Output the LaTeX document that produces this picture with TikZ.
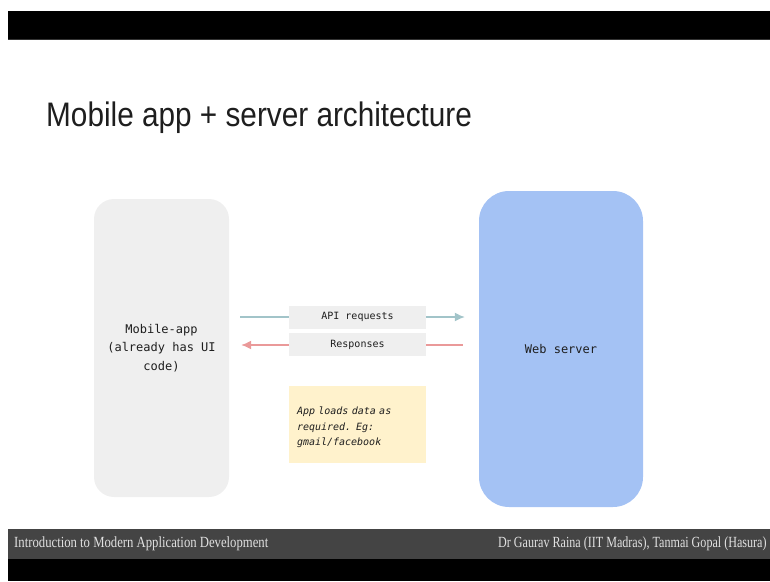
\documentclass[tikz,border=0pt]{standalone}
\usepackage{fontspec}
\setmainfont{Liberation Serif}
\setsansfont{Liberation Sans}
\setmonofont{DejaVu Sans Mono}
\usepackage{tikz}
\usetikzlibrary{arrows.meta, calc, shapes, positioning}
\definecolor{appgray}{RGB}{239,239,239}
\definecolor{serverblue}{RGB}{164,194,244}
\definecolor{noteyellow}{RGB}{255,242,204}
\definecolor{reqteal}{RGB}{162,196,201}
\definecolor{resred}{RGB}{234,153,153}
\definecolor{footgray}{RGB}{68,68,68}
\definecolor{foottext}{RGB}{225,225,225}
\definecolor{ink}{RGB}{30,30,30}

\tikzset{
    tier/.style={rounded corners=#1, inner sep=0pt, text=ink, align=center,
        font=\ttfamily\fontsize{12}{18.5}\selectfont},
    msgbox/.style={fill=appgray, minimum width=137pt, minimum height=23pt,
        inner sep=0pt, text=ink, font=\ttfamily\fontsize{10}{12}\selectfont},
    msgline/.style={line width=1.4pt, -{Latex[length=10pt,width=9pt]}}
}

\begin{document}
\begin{tikzpicture}[x=1pt,y=-1pt]
    \useasboundingbox (0,0) rectangle (770,581);
    % slide bars
    \fill[black] (8,11) rectangle (770,39);
    \fill[black!80] (8,39) rectangle (770,40);
    \fill[footgray] (8,529) rectangle (770,559);
    \fill[black] (8,559) rectangle (770,581);

    % title
    \node[anchor=base west, inner sep=0pt, text=ink, font=\sffamily\fontsize{34}{40}\selectfont] (title) at (46,126)
        {\scalebox{0.875}[1]{Mobile app + server architecture}};

    % the two tiers
    \node[tier=20pt, fill=appgray, minimum width=135pt, minimum height=298pt] (app) at (161.5,348)
        {Mobile-app\\(already has UI\\code)};
    \node[tier=30pt, fill=serverblue, minimum width=164pt, minimum height=316pt] (server) at (561,349)
        {Web server};

    % messages between them
    \coordinate (reqy) at (0,317);
    \coordinate (resy) at (0,345);
    \draw[msgline, draw=reqteal, fill=reqteal, shorten <=11pt, shorten >=14pt]
        (app.east |- reqy) -- (server.west |- reqy);
    \draw[msgline, draw=resred, fill=resred, shorten <=16pt, shorten >=12pt]
        (server.west |- resy) -- (app.east |- resy);
    \node[msgbox] (req) at (357.5,317) {API requests};
    \node[msgbox] (resp) at (357.5,344.5) {Responses};

    % note
    \node[fill=noteyellow, minimum width=137pt, minimum height=77pt, text width=121pt, inner sep=0pt,
        align=left, text=ink, font=\ttfamily\itshape\fontsize{10}{15.5}\selectfont] (note) at (357.5,424.5)
        {\rule{0pt}{13.5pt}App loads data as\\required. Eg:\\gmail/facebook};

    % footer
    \node[anchor=west, inner sep=0pt, text=foottext, font=\fontsize{15.5}{17}\selectfont] (course) at (14,544)
        {\scalebox{0.82}[1]{Introduction to Modern Application Development}};
    \node[anchor=west, inner sep=0pt, text=foottext, font=\fontsize{15.5}{17}\selectfont] (authors) at (498,544)
        {\scalebox{0.78}[1]{Dr Gaurav Raina (IIT Madras), Tanmai Gopal (Hasura)}};
\end{tikzpicture}
\end{document}
